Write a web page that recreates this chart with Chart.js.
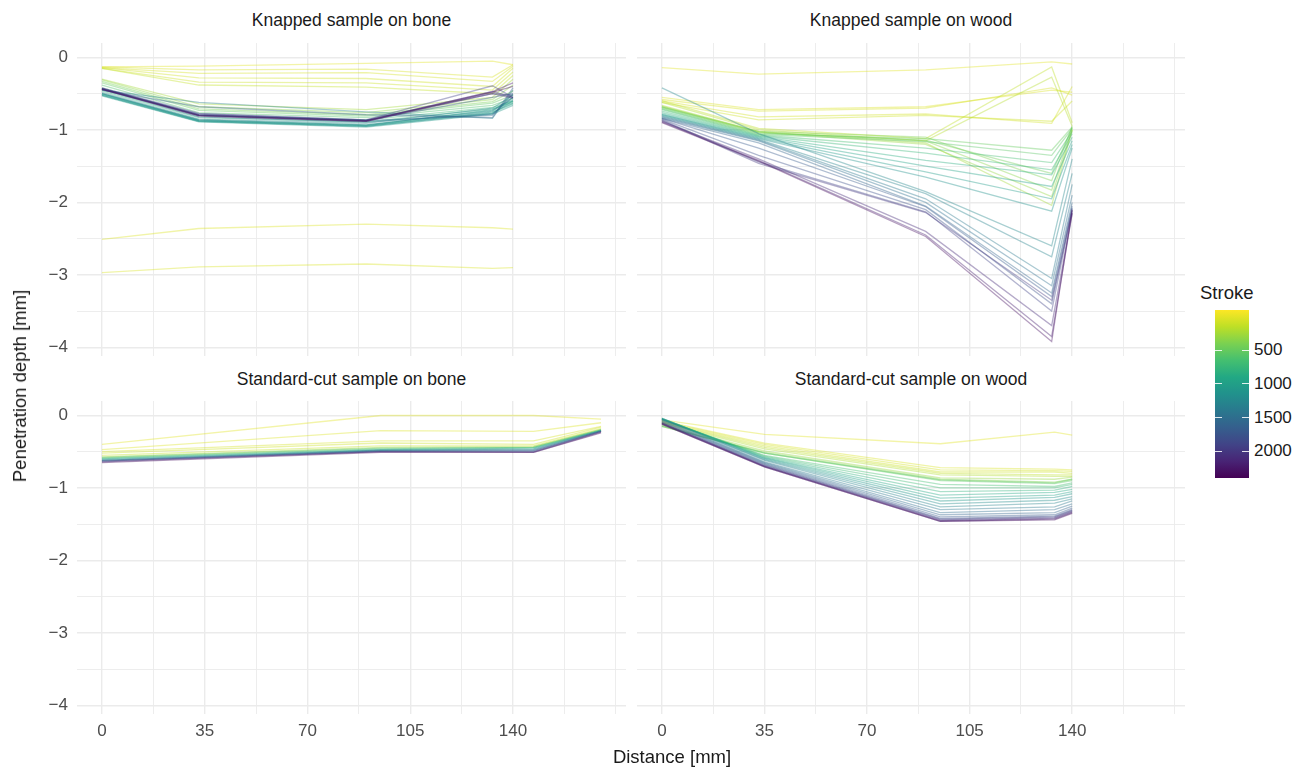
<!DOCTYPE html>
<html><head><meta charset="utf-8">
<script src="https://cdn.jsdelivr.net/npm/chart.js@4.4.1/dist/chart.umd.min.js"></script>
<style>
html,body{margin:0;padding:0;background:#fff;}
#wrap{position:relative;width:1302px;height:767px;overflow:hidden;background:#fff;font-family:"Liberation Sans",Arial,Helvetica,sans-serif;}
canvas{position:absolute;}
.strip{position:absolute;font-size:17.5px;color:#1a1a1a;text-align:center;line-height:20px;white-space:nowrap;}
.atitle{position:absolute;font-size:18.5px;color:#1a1a1a;white-space:nowrap;line-height:22px;}
.leglab{position:absolute;font-size:17px;color:#1a1a1a;line-height:20px;}
.tick{position:absolute;height:1px;background:rgba(255,255,255,0.85);}
</style></head><body>
<div id="wrap">
  <canvas id="cTL"></canvas><canvas id="cTR"></canvas><canvas id="cBL"></canvas><canvas id="cBR"></canvas>
  <div class="strip" style="left:77px;top:10px;width:549px;">Knapped sample on bone</div>
  <div class="strip" style="left:637px;top:10px;width:548px;">Knapped sample on wood</div>
  <div class="strip" style="left:77px;top:369px;width:549px;">Standard-cut sample on bone</div>
  <div class="strip" style="left:637px;top:369px;width:548px;">Standard-cut sample on wood</div>
  <div class="atitle" style="left:672px;top:746px;transform:translateX(-50%);">Distance [mm]</div>
  <div class="atitle" style="left:20px;top:386px;transform:translate(-50%,-50%) rotate(-90deg);">Penetration depth [mm]</div>
  <div id="legend"></div>
</div>
<script>
// ---------------- data ----------------
const xTickLabels = [0, 35, 70, 105, 140];
const xGridValues = [0, 17.5, 35, 52.5, 70, 87.5, 105, 122.5, 140, 157.5, 175];
const yTickLabels = [0, -1, -2, -3, -4];
const yGridValues = [-4, -3.5, -3, -2.5, -2, -1.5, -1, -0.5, 0];
const legendTicks = [500, 1000, 1500, 2000];
const strokeLimits = [-100, 2400];

// Knapped sample on bone
const distKB = [0, 33, 90, 133, 140];
const strokeKB = [10, 25, 35, 45, 60, 80, 100, 125, 250, 330, 420, 520, 620, 720, 820, 920, 960, 1020, 1060, 1120, 1160, 1220, 1260, 1320, 1420, 1520, 1620, 1720, 1820, 1920, 2020, 2120, 2220, 2320];
const depthKB = [
  [-0.13, -0.12, -0.08, -0.05, -0.10],
  [-2.51, -2.36, -2.30, -2.35, -2.37],
  [-2.97, -2.89, -2.85, -2.91, -2.90],
  [-0.13, -0.17, -0.16, -0.27, -0.10],
  [-0.14, -0.22, -0.21, -0.33, -0.12],
  [-0.14, -0.28, -0.29, -0.40, -0.15],
  [-0.15, -0.34, -0.35, -0.45, -0.20],
  [-0.15, -0.38, -0.41, -0.50, -0.25],
  [-0.30, -0.64, -0.72, -0.55, -0.30],
  [-0.31, -0.68, -0.76, -0.58, -0.38],
  [-0.33, -0.71, -0.79, -0.61, -0.46],
  [-0.35, -0.73, -0.81, -0.63, -0.52],
  [-0.38, -0.76, -0.83, -0.66, -0.56],
  [-0.42, -0.80, -0.86, -0.69, -0.60],
  [-0.46, -0.83, -0.89, -0.71, -0.62],
  [-0.50, -0.86, -0.93, -0.73, -0.60],
  [-0.51, -0.87, -0.94, -0.76, -0.64],
  [-0.52, -0.88, -0.95, -0.75, -0.63],
  [-0.53, -0.89, -0.96, -0.78, -0.66],
  [-0.50, -0.87, -0.94, -0.72, -0.58],
  [-0.52, -0.88, -0.95, -0.77, -0.60],
  [-0.48, -0.85, -0.91, -0.70, -0.52],
  [-0.50, -0.86, -0.93, -0.74, -0.55],
  [-0.45, -0.62, -0.75, -0.84, -0.45],
  [-0.44, -0.82, -0.89, -0.78, -0.55],
  [-0.43, -0.80, -0.87, -0.80, -0.50],
  [-0.45, -0.68, -0.79, -0.83, -0.42],
  [-0.44, -0.79, -0.87, -0.55, -0.50],
  [-0.43, -0.78, -0.86, -0.50, -0.52],
  [-0.42, -0.77, -0.86, -0.39, -0.55],
  [-0.43, -0.79, -0.87, -0.47, -0.55],
  [-0.44, -0.80, -0.88, -0.50, -0.56],
  [-0.43, -0.80, -0.87, -0.47, -0.35],
  [-0.44, -0.81, -0.88, -0.48, -0.40]
];

// Knapped sample on wood
const distKW = [0, 33, 90, 133, 140];
const strokeKW = [10, 30, 50, 70, 90, 150, 180, 250, 300, 350, 400, 450, 500, 550, 650, 750, 850, 950, 1050, 1150, 1250, 1300, 1400, 1500, 1600, 1700, 1800, 1900, 2000, 2100, 2200, 2300];
const depthKW = [
  [-0.14, -0.23, -0.17, -0.06, -0.09],
  [-0.55, -0.72, -0.68, -0.45, -0.48],
  [-0.58, -0.74, -0.70, -0.42, -0.52],
  [-0.60, -0.82, -0.78, -0.91, -0.40],
  [-0.62, -0.86, -0.80, -0.88, -0.60],
  [-0.60, -0.98, -1.12, -0.13, -0.90],
  [-0.62, -1.00, -1.15, -0.27, -0.95],
  [-0.66, -1.02, -1.18, -2.04, -1.00],
  [-0.67, -1.03, -1.20, -1.92, -1.00],
  [-0.68, -1.03, -1.15, -1.83, -0.98],
  [-0.68, -1.02, -1.10, -1.70, -0.95],
  [-0.69, -1.04, -1.14, -1.60, -0.97],
  [-0.70, -1.05, -1.12, -1.28, -0.96],
  [-0.71, -1.06, -1.16, -1.35, -0.98],
  [-0.72, -1.07, -1.25, -1.45, -1.02],
  [-0.74, -1.08, -1.32, -1.55, -1.05],
  [-0.76, -1.09, -1.42, -1.62, -1.10],
  [-0.78, -1.10, -1.50, -1.78, -1.15],
  [-0.79, -1.11, -1.58, -1.95, -1.20],
  [-0.80, -1.12, -1.65, -2.12, -1.25],
  [-0.42, -1.05, -1.85, -2.60, -1.40],
  [-0.81, -1.13, -1.88, -2.75, -1.60],
  [-0.82, -1.14, -1.95, -3.05, -1.75],
  [-0.83, -1.15, -2.00, -3.15, -1.90],
  [-0.84, -1.18, -2.05, -3.25, -2.00],
  [-0.84, -1.25, -2.06, -3.30, -2.05],
  [-0.85, -1.35, -2.10, -3.40, -2.08],
  [-0.86, -1.44, -2.13, -3.50, -2.10],
  [-0.87, -1.46, -2.14, -3.35, -2.12],
  [-0.88, -1.40, -2.40, -3.70, -2.15],
  [-0.89, -1.42, -2.45, -3.85, -2.15],
  [-0.90, -1.43, -2.47, -3.92, -2.10]
];

// Standard-cut sample on bone
const distSB = [0, 95, 147, 170];
const strokeSB = [10, 30, 60, 90, 120, 300, 500, 700, 900, 1100, 1300, 1500, 1700, 1900, 2100, 2300];
const depthSB = [
  [-0.40, 0.00, 0.00, -0.05],
  [-0.47, -0.21, -0.22, -0.10],
  [-0.50, -0.35, -0.35, -0.15],
  [-0.52, -0.38, -0.40, -0.16],
  [-0.55, -0.42, -0.42, -0.18],
  [-0.57, -0.44, -0.43, -0.19],
  [-0.58, -0.45, -0.44, -0.20],
  [-0.59, -0.46, -0.44, -0.20],
  [-0.60, -0.47, -0.45, -0.21],
  [-0.61, -0.48, -0.46, -0.21],
  [-0.62, -0.48, -0.47, -0.21],
  [-0.62, -0.49, -0.48, -0.22],
  [-0.63, -0.49, -0.49, -0.22],
  [-0.63, -0.50, -0.50, -0.22],
  [-0.64, -0.50, -0.51, -0.23],
  [-0.65, -0.51, -0.51, -0.24]
];

// Standard-cut sample on wood
const distSW = [0, 35, 95, 134, 140];
const strokeSW = [10, 40, 70, 100, 150, 200, 300, 400, 500, 550, 650, 700, 800, 900, 1000, 1100, 1200, 1300, 1400, 1500, 1600, 1700, 1800, 1900, 2000, 2100, 2200, 2300];
const depthSW = [
  [-0.06, -0.26, -0.39, -0.23, -0.27],
  [-0.07, -0.38, -0.72, -0.74, -0.75],
  [-0.08, -0.40, -0.75, -0.76, -0.77],
  [-0.09, -0.42, -0.78, -0.78, -0.80],
  [-0.10, -0.44, -0.80, -0.82, -0.82],
  [-0.11, -0.46, -0.82, -0.84, -0.84],
  [-0.13, -0.49, -0.86, -0.88, -0.85],
  [-0.15, -0.51, -0.88, -0.92, -0.88],
  [-0.15, -0.52, -0.89, -0.93, -0.88],
  [-0.14, -0.52, -0.90, -0.94, -0.90],
  [-0.06, -0.55, -0.95, -0.98, -0.93],
  [-0.05, -0.56, -1.00, -1.00, -0.95],
  [-0.05, -0.57, -1.05, -1.03, -0.98],
  [-0.04, -0.58, -1.10, -1.06, -1.02],
  [-0.04, -0.59, -1.14, -1.10, -1.05],
  [-0.04, -0.60, -1.18, -1.13, -1.08],
  [-0.05, -0.61, -1.22, -1.17, -1.12],
  [-0.05, -0.62, -1.26, -1.21, -1.15],
  [-0.06, -0.64, -1.30, -1.26, -1.18],
  [-0.07, -0.65, -1.34, -1.30, -1.22],
  [-0.08, -0.66, -1.37, -1.34, -1.25],
  [-0.09, -0.67, -1.40, -1.37, -1.28],
  [-0.10, -0.68, -1.42, -1.39, -1.30],
  [-0.10, -0.69, -1.43, -1.40, -1.31],
  [-0.11, -0.70, -1.44, -1.41, -1.32],
  [-0.11, -0.70, -1.45, -1.42, -1.33],
  [-0.12, -0.71, -1.46, -1.43, -1.34],
  [-0.12, -0.71, -1.46, -1.44, -1.35]
];

// ---------------- rendering ----------------
const FONT = '"Liberation Sans", Arial, Helvetica, sans-serif';
const X_MIN = -8.5, X_MAX = 178.5;
const Y_MIN = -4.12, Y_MAX = 0.2;
const VIRIDIS = ['#440154','#482475','#414487','#355f8d','#2a788e','#21918c','#22a884','#44bf70','#7ad151','#bddf26','#fde725'];

function hexToRgb(h){return [parseInt(h.slice(1,3),16),parseInt(h.slice(3,5),16),parseInt(h.slice(5,7),16)];}
function viridis(t){
  t = Math.max(0, Math.min(1, t));
  const p = t * (VIRIDIS.length - 1);
  const i = Math.min(Math.floor(p), VIRIDIS.length - 2);
  const f = p - i;
  const a = hexToRgb(VIRIDIS[i]), b = hexToRgb(VIRIDIS[i+1]);
  return a.map((v,k)=>Math.round(v + (b[k]-v)*f));
}
function strokeColor(s, alpha){
  const t = 1 - (s - strokeLimits[0]) / (strokeLimits[1] - strokeLimits[0]);
  const c = viridis(t);
  return `rgba(${c[0]},${c[1]},${c[2]},${alpha})`;
}
function minus(v){ return v < 0 ? '\u2212' + Math.abs(v) : String(v); }

function makePanel(id, left, top, width, height, yW, xH, showX, showY, dist, strokes, depths){
  const cv = document.getElementById(id);
  cv.width = width; cv.height = height;
  cv.style.left = left + 'px'; cv.style.top = top + 'px';
  cv.style.width = width + 'px'; cv.style.height = height + 'px';
  const datasets = strokes.map((s, i) => ({
    data: dist.map((x, j) => ({x: x, y: depths[i][j]})),
    borderColor: strokeColor(s, 0.4),
    borderWidth: 1.3,
    pointRadius: 0,
    fill: false,
    tension: 0,
    order: -s
  }));
  const gridCol = '#ebebeb';
  new Chart(cv, {
    type: 'line',
    data: {datasets},
    options: {
      responsive: false, animation: false, devicePixelRatio: 1,
      layout: {padding: 0},
      plugins: {legend: {display: false}, tooltip: {enabled: false}, title: {display: false}},
      scales: {
        x: {
          type: 'linear', min: X_MIN, max: X_MAX,
          afterBuildTicks: s => { s.ticks = xGridValues.map(v => ({value: v})); },
          afterFit: s => { s.height = xH; s.paddingLeft = 0; s.paddingRight = 0; },
          border: {display: false},
          grid: {drawTicks: false, color: gridCol,
                 lineWidth: c => (c.tick && xTickLabels.includes(c.tick.value)) ? 1.4 : 0.9},
          ticks: {display: showX, padding: 7, autoSkip: false, maxRotation: 0, color: '#4d4d4d',
                  font: {family: FONT, size: 17},
                  callback: v => xTickLabels.includes(v) ? String(v) : ''}
        },
        y: {
          type: 'linear', min: Y_MIN, max: Y_MAX,
          afterBuildTicks: s => { s.ticks = yGridValues.map(v => ({value: v})); },
          afterFit: s => { s.width = yW; s.paddingTop = 0; s.paddingBottom = 0; },
          border: {display: false},
          grid: {drawTicks: false, color: gridCol,
                 lineWidth: c => (c.tick && yTickLabels.includes(c.tick.value)) ? 1.4 : 0.9},
          ticks: {display: showY, padding: 9, autoSkip: false, color: '#4d4d4d',
                  font: {family: FONT, size: 17},
                  callback: v => yTickLabels.includes(v) ? minus(v) : ''}
        }
      }
    }
  });
}

const PH = 313;   // panel height
const XH = 34;    // x-axis label band
makePanel('cTL', 0, 43, 626, PH, 77, 0, false, true, distKB, strokeKB, depthKB);
makePanel('cTR', 637, 43, 548, PH, 0, 0, false, false, distKW, strokeKW, depthKW);
makePanel('cBL', 0, 401, 626, PH + XH, 77, XH, true, true, distSB, strokeSB, depthSB);
makePanel('cBR', 637, 401, 548, PH + XH, 0, XH, true, false, distSW, strokeSW, depthSW);

// ---------------- colour bar legend ----------------
(function(){
  const lg = document.getElementById('legend');
  const barL = 1215, barT = 310, barW = 34, barH = 168;
  let html = '<div class="atitle" style="left:1200px;top:282px;">Stroke</div>';
  const stops = VIRIDIS.slice().reverse().join(',');
  html += `<div style="position:absolute;left:${barL}px;top:${barT}px;width:${barW}px;height:${barH}px;background:linear-gradient(to bottom, ${stops});"></div>`;
  legendTicks.forEach(v => {
    const y = barT + (v - strokeLimits[0]) / (strokeLimits[1] - strokeLimits[0]) * barH;
    html += `<div class="tick" style="left:${barL}px;top:${y - 0.5}px;width:7px;"></div>`;
    html += `<div class="tick" style="left:${barL + barW - 7}px;top:${y - 0.5}px;width:7px;"></div>`;
    html += `<div class="leglab" style="left:${barL + barW + 5}px;top:${y - 10}px;">${v}</div>`;
  });
  lg.innerHTML = html;
})();
</script>
</body></html>
